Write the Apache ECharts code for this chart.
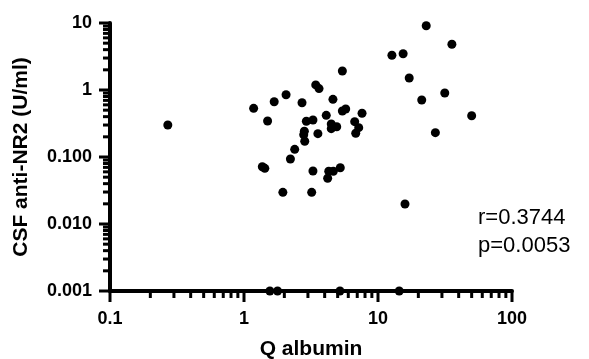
<!DOCTYPE html>
<html>
<head>
<meta charset="utf-8">
<script src="https://cdn.jsdelivr.net/npm/echarts@6/dist/echarts.min.js"></script>
<style>
  html, body { margin: 0; padding: 0; background: #fff; }
  #chart { width: 589px; height: 359px; }
</style>
</head>
<body>
<div id="chart"></div>
<script>
// Q albumin (x) vs CSF anti-NR2 (y)
const qAlbumin = [
  5.42, 3.43, 3.63, 2.06, 1.68, 1.18, 2.71, 4.61, 1.50, 5.42,
  5.74, 7.60, 4.11, 2.92, 3.27, 6.70, 4.48, 4.92, 4.48, 7.18,
  6.82, 2.82, 2.79, 3.56, 2.84, 2.39, 2.22, 1.37, 1.43, 3.27,
  4.29, 4.64, 5.23, 4.21, 1.95, 3.20,
  22.9, 35.6, 12.7, 15.4, 17.1, 21.2, 31.5, 50.0, 26.8, 15.9,
  0.27,
  1.56, 1.78, 5.20, 14.4
]
const antiNR2 = [
  1.92, 1.19, 1.05, 0.851, 0.669, 0.533, 0.646, 0.726, 0.345, 0.486,
  0.52, 0.449, 0.419, 0.341, 0.357, 0.337, 0.311, 0.283, 0.265, 0.274,
  0.226, 0.242, 0.215, 0.223, 0.1715, 0.130, 0.0934, 0.0716, 0.0678, 0.0618,
  0.0612, 0.0612, 0.0692, 0.0481, 0.0297, 0.0297,
  9.11, 4.81, 3.30, 3.48, 1.51, 0.71, 0.902, 0.413, 0.231, 0.0199,
  0.30,
  0.001, 0.001, 0.001, 0.001
]

const xTickValues = [0.1, 1, 10, 100]
const xTickLabels = ['0.1', '1', '10', '100']
const yTickValues = [0.001, 0.01, 0.1, 1, 10]
const yTickLabels = ['0.001', '0.010', '0.100', '1', '10']
const statsLines = ['r=0.3744', 'p=0.0053']

const xMin = 0.1, xMax = 100
const yMin = 0.001, yMax = 10

// minor ticks at 2..9 within every decade
function minorTicks(decades) {
  let out = []
  decades.forEach(d => {
    for (let k = 2; k <= 9; k++) out.push(+(d * k).toPrecision(3))
  })
  return out
}
const xMinor = minorTicks(xTickValues.slice(0, -1))
const yMinor = minorTicks(yTickValues.slice(0, -1))

function tickFormatter(values, labels) {
  return function (v) {
    const i = values.findIndex(t => Math.abs(Math.log10(t) - Math.log10(v)) < 1e-6)
    return i >= 0 ? labels[i] : ''
  }
}

// tick marks as small rect symbols hanging off the axes
function tickSeries(data, len, isY) {
  return {
    type: 'scatter',
    silent: true,
    clip: false,
    z: 2,
    symbol: 'rect',
    symbolSize: isY ? [len, 3] : [3, len],
    symbolOffset: isY ? [-len / 2, 0] : [0, len / 2],
    itemStyle: { color: '#000', opacity: 1 },
    data: data
  }
}

const fontFam = 'Liberation Sans'
const chart = echarts.init(document.getElementById('chart'))

const option = {
  animation: false,
  grid: { left: 110, right: 77, top: 23, bottom: 68, outerBoundsMode: 'none' },
  xAxis: {
    type: 'log',
    min: xMin,
    max: xMax,
    name: 'Q albumin',
    nameLocation: 'middle',
    nameGap: 48,
    nameTextStyle: { color: '#000', fontSize: 21, fontWeight: 'bold', fontFamily: fontFam },
    axisLine: { show: true, lineStyle: { color: '#000', width: 4 } },
    axisTick: { show: false },
    splitLine: { show: false },
    axisLabel: {
      color: '#000',
      fontSize: 18,
      fontWeight: 'bold',
      fontFamily: fontFam,
      margin: 19,
      formatter: tickFormatter(xTickValues, xTickLabels)
    }
  },
  yAxis: {
    type: 'log',
    min: yMin,
    max: yMax,
    name: 'CSF anti-NR2 (U/ml)',
    nameLocation: 'middle',
    nameGap: 78,
    nameTextStyle: { color: '#000', fontSize: 21, fontWeight: 'bold', fontFamily: fontFam },
    axisLine: { show: true, lineStyle: { color: '#000', width: 4 } },
    axisTick: { show: false },
    splitLine: { show: false },
    axisLabel: {
      color: '#000',
      fontSize: 18,
      fontWeight: 'bold',
      fontFamily: fontFam,
      margin: 18,
      formatter: tickFormatter(yTickValues, yTickLabels)
    }
  },
  graphic: statsLines.map((t, i) => ({
    type: 'text',
    x: 478,
    y: 218 + i * 28,
    style: { text: t, fill: '#000', font: '22px ' + fontFam, verticalAlign: 'middle' }
  })),
  series: [
    tickSeries(xTickValues.map(v => [v, yMin]), 11, false),
    tickSeries(xMinor.map(v => [v, yMin]), 7, false),
    tickSeries(yTickValues.map(v => [xMin, v]), 11, true),
    tickSeries(yMinor.map(v => [xMin, v]), 7, true),
    {
      type: 'scatter',
      symbol: 'circle',
      symbolSize: 9,
      z: 3,
      itemStyle: { color: '#000', opacity: 1 },
      data: qAlbumin.map((x, i) => [x, antiNR2[i]])
    }
  ]
}

chart.setOption(option)
</script>
</body>
</html>
